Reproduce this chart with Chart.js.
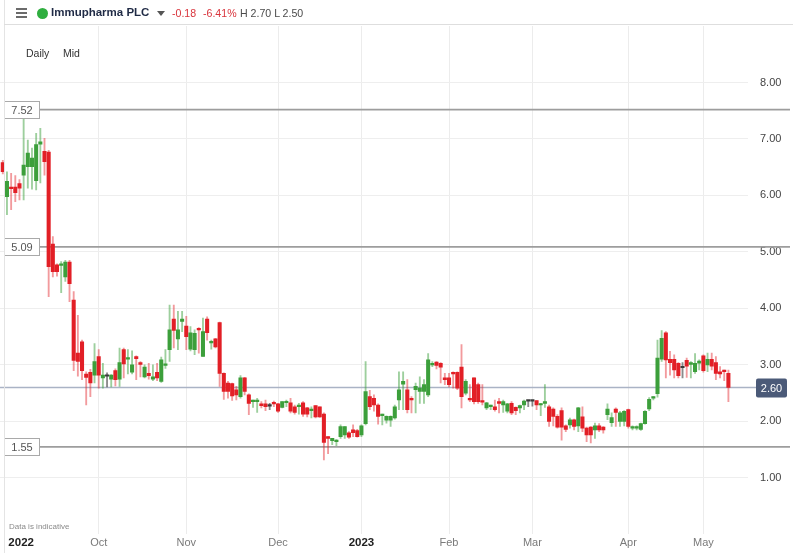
<!DOCTYPE html>
<html><head><meta charset="utf-8">
<script src="https://cdn.jsdelivr.net/npm/chart.js@4.4.1/dist/chart.umd.min.js"></script>
<style>
html,body{margin:0;padding:0;background:#fff;width:793px;height:553px;overflow:hidden;font-family:"Liberation Sans",Arial,sans-serif;}
#wrap{position:relative;width:793px;height:553px;}
#c{position:absolute;left:0;top:0;}
.abs{position:absolute;white-space:nowrap;}
#hdr{position:absolute;left:4px;top:0;width:789px;height:24px;border-bottom:1px solid #dedede;}
#vline{position:absolute;left:4px;top:0;width:1px;height:553px;background:#e4e4e4;}
.bar{position:absolute;left:16px;width:11px;height:1.6px;background:#6b6b6b;}
#dot{left:37px;top:8px;width:11px;height:11px;border-radius:50%;background:#2fae3f;}
#title{left:51px;top:6px;font-size:11.5px;font-weight:bold;color:#1f2a45;}
#tri{left:157px;top:11px;width:0;height:0;border-left:4px solid transparent;border-right:4px solid transparent;border-top:5px solid #555;}
.red{color:#d9343c;font-size:10.6px;top:7px;}
.grey{color:#4a4a4a;font-size:10.6px;top:7px;}
.sm{font-size:10.5px;color:#333;top:47px;}
#ind{left:9px;top:522px;font-size:8px;color:#8a8a8a;}
</style></head>
<body><div id="wrap">
<canvas id="c" width="793" height="553"></canvas>
<div id="vline"></div>
<div id="hdr"></div>
<div class="bar" style="top:8px"></div><div class="bar" style="top:12px"></div><div class="bar" style="top:16px"></div>
<div class="abs" id="dot"></div>
<div class="abs" id="title">Immupharma PLC</div>
<div class="abs" id="tri"></div>
<div class="abs red" style="left:172px">-0.18</div>
<div class="abs red" style="left:203px">-6.41%</div>
<div class="abs grey" style="left:240px">H 2.70 L 2.50</div>
<div class="abs sm" style="left:26px">Daily</div>
<div class="abs sm" style="left:63px">Mid</div>
<div class="abs" id="ind">Data is indicative</div>
</div>
<script>
// Daily candles, 30 Aug 2022 – 11 May 2023 (trading-day index)
const open  = [6.58,5.98,6.15,6.15,6.21,6.36,6.51,6.51,6.26,6.91,6.78,6.77,5.14,4.77,4.76,4.56,4.82,4.15,3.21,3.41,
2.84,2.87,2.82,3.15,2.77,2.80,2.75,2.90,2.75,3.27,3.10,2.87,3.15,3.04,2.79,2.85,2.75,2.87,2.71,2.99,
3.27,3.81,3.46,3.77,3.69,3.28,3.27,3.65,3.15,3.81,3.39,3.46,3.75,2.85,2.68,2.67,2.56,2.44,2.77,2.47,
2.35,2.35,2.31,2.31,2.27,2.33,2.31,2.25,2.33,2.33,2.26,2.26,2.33,2.24,2.19,2.28,2.26,2.13,1.73,1.66,
1.64,1.73,1.76,1.80,1.85,1.84,1.76,1.96,2.44,2.41,2.29,2.10,2.02,2.02,2.06,2.38,2.66,2.56,2.41,2.56,
2.53,2.53,2.47,3.00,3.05,3.03,2.77,2.77,2.87,2.87,2.96,2.50,2.41,2.77,2.65,2.37,2.24,2.26,2.26,2.35,
2.29,2.18,2.32,2.25,2.24,2.29,2.36,2.36,2.37,2.29,2.32,2.26,2.22,2.09,2.19,1.92,1.94,2.03,1.92,2.08,
1.88,1.90,1.85,1.92,1.90,2.12,1.98,2.22,2.00,2.00,2.21,1.88,1.88,1.86,1.96,2.22,2.41,2.49,3.10,3.57,
3.10,3.10,3.03,2.95,3.08,3.01,2.88,3.03,3.16,3.00,3.10,3.04,2.88,2.91,2.85];
const high  = [6.62,6.42,6.39,6.35,6.28,7.52,6.98,6.84,7.10,7.19,7.01,6.80,5.27,4.79,4.83,4.85,4.85,4.30,3.88,3.44,
2.88,2.92,3.38,3.27,3.03,2.86,2.83,2.93,3.30,3.30,3.27,3.25,3.16,3.06,3.00,3.03,3.00,3.03,3.14,3.27,
4.06,4.06,3.95,3.95,3.86,3.68,3.62,3.66,3.83,3.85,3.44,3.47,3.76,2.86,2.71,2.68,2.62,2.81,2.78,2.49,
2.38,2.41,2.35,2.38,2.32,2.36,2.32,2.35,2.38,2.41,2.29,2.32,2.35,2.25,2.26,2.28,2.26,2.15,1.73,1.70,
1.68,1.94,1.91,1.82,1.94,1.86,1.94,3.06,2.55,2.47,2.31,2.13,2.10,2.10,2.29,2.88,2.88,2.74,2.44,2.68,
2.79,2.74,3.20,3.06,3.06,3.04,2.85,2.85,2.88,2.88,3.36,2.74,2.65,2.77,2.68,2.65,2.34,2.29,2.38,2.41,
2.38,2.32,2.35,2.26,2.29,2.38,2.37,2.37,2.37,2.32,2.65,2.29,2.24,2.12,2.24,1.94,2.06,2.04,2.25,2.26,
1.90,1.91,1.97,1.96,1.91,2.31,2.15,2.24,2.18,2.19,2.22,1.92,1.92,1.97,2.19,2.42,2.44,3.44,3.61,3.59,
3.24,3.18,3.04,3.04,3.12,3.06,3.20,3.09,3.18,3.21,3.21,3.15,2.97,2.91,2.91];
const low   = [6.38,5.66,5.75,5.89,5.92,5.92,6.13,6.11,6.10,6.22,6.36,4.21,4.56,4.57,4.28,4.48,4.12,2.90,2.80,2.74,
2.29,2.44,2.68,2.59,2.59,2.61,2.61,2.63,2.62,2.77,2.84,2.84,2.74,2.79,2.77,2.75,2.72,2.72,2.69,2.94,
3.06,3.30,3.27,3.59,3.27,3.25,3.18,3.21,3.15,3.44,3.28,3.30,2.62,2.39,2.41,2.37,2.38,2.41,2.47,2.12,
2.25,2.16,2.24,2.19,2.21,2.26,2.16,2.24,2.26,2.15,2.13,2.13,2.09,2.08,2.06,2.06,2.07,1.32,1.43,1.59,
1.57,1.70,1.70,1.70,1.73,1.72,1.73,1.94,2.21,2.18,1.95,1.94,1.97,1.91,2.04,2.21,2.21,2.15,2.15,2.15,
2.32,2.32,2.44,2.97,2.93,2.68,2.65,2.61,2.59,2.56,2.24,2.47,2.35,2.31,2.32,2.29,2.21,2.21,2.18,2.15,
2.16,2.15,2.12,2.12,2.15,2.21,2.26,2.27,2.21,2.10,2.25,1.91,1.92,1.88,1.67,1.82,1.88,1.85,1.82,1.82,
1.64,1.62,1.70,1.82,1.79,2.03,1.91,1.91,1.91,1.92,1.88,1.85,1.85,1.84,1.95,2.19,2.38,2.43,3.06,2.77,
2.82,2.77,2.77,2.77,2.78,2.77,2.85,2.91,2.87,2.88,2.91,2.74,2.77,2.72,2.35];
const close = [6.42,6.25,6.12,6.05,6.13,6.54,6.75,6.66,6.90,6.95,6.60,4.74,4.65,4.65,4.79,4.82,4.44,3.08,3.06,2.90,
2.78,2.68,3.06,2.82,2.82,2.80,2.82,2.74,3.04,3.02,3.13,3.00,3.11,3.01,2.96,2.81,2.79,2.77,3.09,3.02,
3.62,3.61,3.62,3.81,3.50,3.57,3.56,3.62,3.59,3.57,3.41,3.32,2.85,2.53,2.53,2.45,2.47,2.77,2.53,2.32,
2.38,2.38,2.28,2.26,2.27,2.31,2.18,2.35,2.35,2.18,2.16,2.29,2.13,2.13,2.22,2.08,2.08,1.63,1.70,1.70,
1.67,1.91,1.91,1.72,1.80,1.73,1.92,2.53,2.26,2.29,2.09,2.13,2.09,2.09,2.26,2.56,2.71,2.21,2.38,2.62,
2.59,2.65,3.09,3.03,2.99,2.96,2.74,2.65,2.84,2.59,2.44,2.71,2.38,2.35,2.35,2.34,2.33,2.29,2.21,2.32,
2.35,2.31,2.15,2.19,2.28,2.36,2.36,2.36,2.29,2.31,2.35,2.00,2.09,1.90,1.90,1.86,2.03,1.91,2.24,1.88,
1.76,1.76,1.92,1.85,1.85,2.22,2.07,2.16,2.15,2.18,1.91,1.91,1.91,1.96,2.18,2.39,2.44,3.12,3.47,3.09,
3.04,2.91,2.81,2.95,2.98,3.04,3.03,3.07,2.90,3.10,2.98,2.85,2.84,2.88,2.60];

const monthTickIdx    = [4.4, 23, 44, 66, 86, 107, 127, 150, 168];
const monthTickLabels = ['2022','Oct','Nov','Dec','2023','Feb','Mar','Apr','May'];
const priceTicks  = [1, 2, 3, 4, 5, 6, 7, 8];
const levelValues = [7.52, 5.09, 1.55];
const lastPrice   = 2.60;

const FONT = '"Liberation Sans", Arial, sans-serif';
const GREEN = '#3c9f3b', RED = '#e21f26', FLAT = '#3a3a3a';
const GREEN_W = 'rgba(60,160,60,0.5)', RED_W = 'rgba(226,31,38,0.45)', FLAT_W = 'rgba(60,60,60,0.6)';
function dir(i){ return close[i] > open[i] ? 1 : (close[i] < open[i] ? -1 : 0); }

const idx = open.map((_, i) => i);

const levelPlugin = {
  id: 'levels',
  beforeDatasetsDraw(chart){
    const c = chart.ctx, y = chart.scales.y, a = chart.chartArea;
    c.save();
    c.lineWidth = 1.6; c.strokeStyle = '#9d9d9d';
    levelValues.forEach(v => {
      const py = y.getPixelForValue(v);
      c.beginPath(); c.moveTo(4, py); c.lineTo(790, py); c.stroke();
    });
    const pp = y.getPixelForValue(lastPrice);
    c.strokeStyle = '#aab3c5'; c.lineWidth = 1.6;
    c.beginPath(); c.moveTo(0, pp); c.lineTo(a.right + 8, pp); c.stroke();
    c.restore();
  },
  afterDatasetsDraw(chart){
    const c = chart.ctx, y = chart.scales.y, a = chart.chartArea;
    c.save();
    c.font = '11px ' + FONT; c.textAlign = 'center'; c.textBaseline = 'middle';
    levelValues.forEach(v => {
      const py = Math.round(y.getPixelForValue(v));
      c.fillStyle = '#fff'; c.fillRect(4.5, py - 8.5, 35, 17);
      c.strokeStyle = '#a9a9a9'; c.lineWidth = 1; c.strokeRect(4.5, py - 8.5, 35, 17);
      c.fillStyle = '#555'; c.fillText(v.toFixed(2), 22, py + 0.5);
    });
    const pp = Math.round(y.getPixelForValue(lastPrice));
    c.fillStyle = '#4b5a78';
    c.beginPath();
    if (c.roundRect) c.roundRect(a.right + 8, pp - 9.5, 31, 19, 2); else c.rect(a.right + 8, pp - 9.5, 31, 19);
    c.fill();
    c.fillStyle = '#fff'; c.fillText(lastPrice.toFixed(2), a.right + 23.5, pp + 0.5);
    c.restore();
  }
};

new Chart(document.getElementById('c'), {
  type: 'bar',
  data: {
    datasets: [
      { label: 'range', data: idx.map(i => ({ x: i, y: [low[i], high[i]] })),
        backgroundColor: ctx => { const d = dir(ctx.dataIndex); return d > 0 ? GREEN_W : d < 0 ? RED_W : FLAT_W; },
        barThickness: 1.2, grouped: false, order: 2 },
      { label: 'body', data: idx.map(i => ({ x: i, y: [open[i], close[i]] })),
        backgroundColor: ctx => { const d = dir(ctx.dataIndex); return d > 0 ? GREEN : d < 0 ? RED : FLAT; },
        barThickness: 3.4, minBarLength: 1.5, grouped: false, order: 1 }
    ]
  },
  options: {
    responsive: false, animation: false, devicePixelRatio: 1,
    layout: { padding: { top: 26, left: 0, right: 0, bottom: 0 } },
    plugins: { legend: { display: false }, tooltip: { enabled: false } },
    scales: {
      x: {
        type: 'linear', min: -0.67, max: 178.7, offset: false,
        afterBuildTicks: s => { s.ticks = monthTickIdx.map(v => ({ value: v })); },
        afterFit: s => { s.height = 18; },
        ticks: {
          autoSkip: false, maxRotation: 0, padding: 2,
          callback: (v, i) => monthTickLabels[i],
          font: c => /^\d{4}$/.test(monthTickLabels[c.index]) ? { size: 11.5, weight: 'bold', family: FONT } : { size: 11, family: FONT },
          color: c => /^\d{4}$/.test(monthTickLabels[c.index]) ? '#222' : '#7a7a7a'
        },
        grid: { offset: false, color: c => c.index === 0 ? 'rgba(0,0,0,0)' : '#ececec', drawTicks: false, lineWidth: 1 },
        border: { display: false }
      },
      y: {
        type: 'linear', position: 'right', min: 0, max: 9,
        afterBuildTicks: s => { s.ticks = priceTicks.map(v => ({ value: v })); },
        afterFit: s => { s.width = 45; },
        ticks: { callback: v => v.toFixed(2), padding: 12, color: '#444', font: { size: 11, family: FONT } },
        grid: { color: '#eeeeee', drawTicks: false, lineWidth: 1 },
        border: { display: false }
      }
    }
  },
  plugins: [levelPlugin]
});
</script>
</body></html>
